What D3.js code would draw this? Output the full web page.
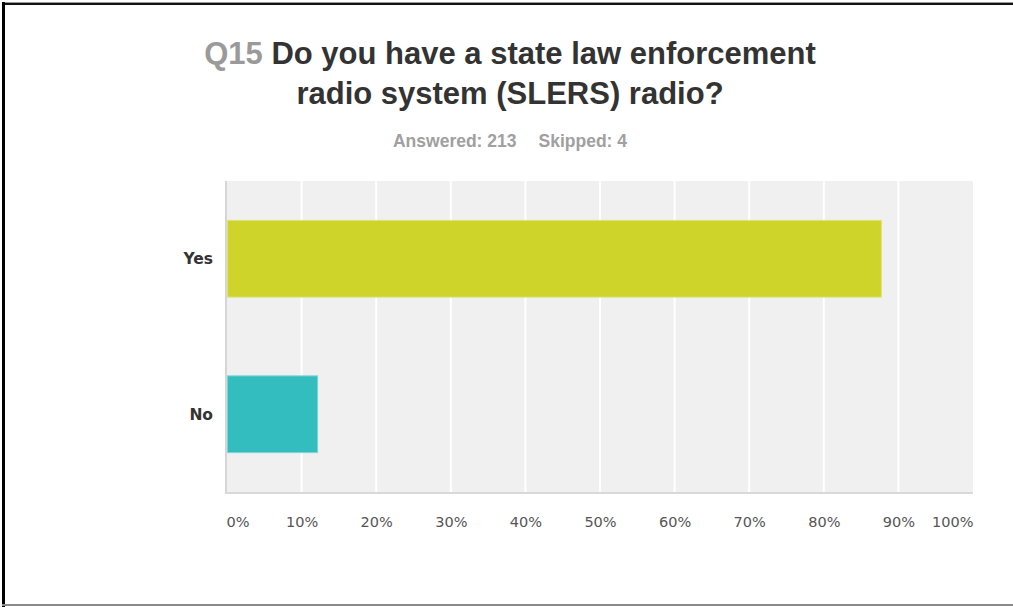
<!DOCTYPE html>
<html>
<head>
<meta charset="utf-8">
<script src="https://cdn.jsdelivr.net/npm/d3@7/dist/d3.min.js"></script>
<style>
  html, body { margin: 0; padding: 0; background: #fff; }
  svg { display: block; }
</style>
</head>
<body>
<svg id="chart" width="1013" height="607"></svg>
<script>
const categories = ["Yes", "No"];
const values = [87.79, 12.21];
const barColors = ["#cfd42a", "#33bdbf"];
const barStrokes = ["#dfe27a", "#7dd3d4"];
const tickValues = [0, 10, 20, 30, 40, 50, 60, 70, 80, 90, 100];
const tickLabels = ["0%", "10%", "20%", "30%", "40%", "50%", "60%", "70%", "80%", "90%", "100%"];
const titleNumber = "Q15";
const titleLines = ["Do you have a state law enforcement", "radio system (SLERS) radio?"];
const answeredText = "Answered: 213";
const skippedText = "Skipped: 4";

(function () {
const svg = d3.select("#chart");
const W = 1013, H = 607;

// frame
svg.append("rect").attr("x", 2).attr("y", 2).attr("width", W - 2).attr("height", 1).attr("fill", "#999");
svg.append("rect").attr("x", 2).attr("y", 3).attr("width", W - 2).attr("height", 2).attr("fill", "#111");
svg.append("rect").attr("x", 2).attr("y", 2).attr("width", 3).attr("height", H - 2).attr("fill", "#000");
svg.append("rect").attr("x", 2).attr("y", 604).attr("width", W - 2).attr("height", 2).attr("fill", "#8a8a8a");

// title
const cx = 510;
const t1 = svg.append("text").attr("x", cx).attr("y", 64).attr("text-anchor", "middle")
  .attr("font-family", "'Liberation Sans', Arial, sans-serif").attr("font-weight", "bold").attr("font-size", 31);
t1.append("tspan").attr("fill", "#9a9a9a").text(titleNumber + " ");
t1.append("tspan").attr("fill", "#333").text(titleLines[0]);
svg.append("text").attr("x", cx).attr("y", 104).attr("text-anchor", "middle")
  .attr("font-family", "'Liberation Sans', Arial, sans-serif").attr("font-weight", "bold").attr("font-size", 31)
  .attr("fill", "#333").text(titleLines[1]);

const sub = svg.append("text").attr("x", cx).attr("y", 147).attr("text-anchor", "middle")
  .attr("font-family", "'Liberation Sans', Arial, sans-serif").attr("font-weight", "bold").attr("font-size", 17.5)
  .attr("fill", "#a0a0a0");
sub.append("tspan").text(answeredText);
sub.append("tspan").attr("dx", 22).text(skippedText);

// plot
const pLeft = 227, pRight = 973, pTop = 181, pBottom = 492;
const x = d3.scaleLinear().domain([0, 100]).range([pLeft, pRight]);
const y = d3.scaleBand().domain(categories).range([pTop, pBottom]).paddingInner(0.5).paddingOuter(0.25);

svg.append("rect").attr("x", pLeft).attr("y", pTop).attr("width", pRight - pLeft).attr("height", pBottom - pTop).attr("fill", "#f0f0f0");

// gridlines
svg.append("g").selectAll("line").data(tickValues.slice(1, -1)).join("line")
  .attr("x1", d => x(d)).attr("x2", d => x(d)).attr("y1", pTop).attr("y2", pBottom)
  .attr("stroke", "#fff").attr("stroke-width", 2);

// bars
svg.append("g").selectAll("rect").data(categories).join("rect")
  .attr("x", x(0) + 0.5)
  .attr("y", d => y(d) + 0.5)
  .attr("width", (d, i) => x(values[i]) - x(0) - 1)
  .attr("height", y.bandwidth() - 1)
  .attr("fill", (d, i) => barColors[i])
  .attr("stroke", (d, i) => barStrokes[i])
  .attr("stroke-width", 1);

// axis lines
svg.append("rect").attr("x", 225).attr("y", pTop).attr("width", 2).attr("height", pBottom - pTop + 2).attr("fill", "#d6d6d6");
svg.append("rect").attr("x", 225).attr("y", pBottom).attr("width", pRight - 225).attr("height", 2).attr("fill", "#d9d9d9");

// x tick labels via axis
const xAxis = d3.axisBottom(x).tickValues(tickValues).tickFormat((d, i) => tickLabels[i]).tickSize(0).tickPadding(0);
const gx = svg.append("g").attr("transform", `translate(0,${527})`).call(xAxis);
gx.select(".domain").remove();
gx.selectAll("text")
  .attr("dy", 0)
  .attr("y", 0)
  .attr("font-family", "'DejaVu Sans', Verdana, sans-serif")
  .attr("font-size", 14.5)
  .attr("fill", "#555")
  .attr("text-anchor", (d, i) => i === 0 ? "start" : (i === tickValues.length - 1 ? "end" : "middle"))
  .attr("dx", (d, i) => i === 0 ? -1 : 0);

// y category labels via axis
const yAxis = d3.axisLeft(y).tickSize(0).tickPadding(0);
const gy = svg.append("g").attr("transform", `translate(213,0)`).call(yAxis);
gy.select(".domain").remove();
gy.selectAll("text")
  .attr("x", 0)
  .attr("dy", "0.36em")
  .attr("font-family", "'DejaVu Sans', Verdana, sans-serif")
  .attr("font-weight", "bold")
  .attr("font-size", 15.5)
  .attr("fill", "#333");
})();
</script>
</body>
</html>
